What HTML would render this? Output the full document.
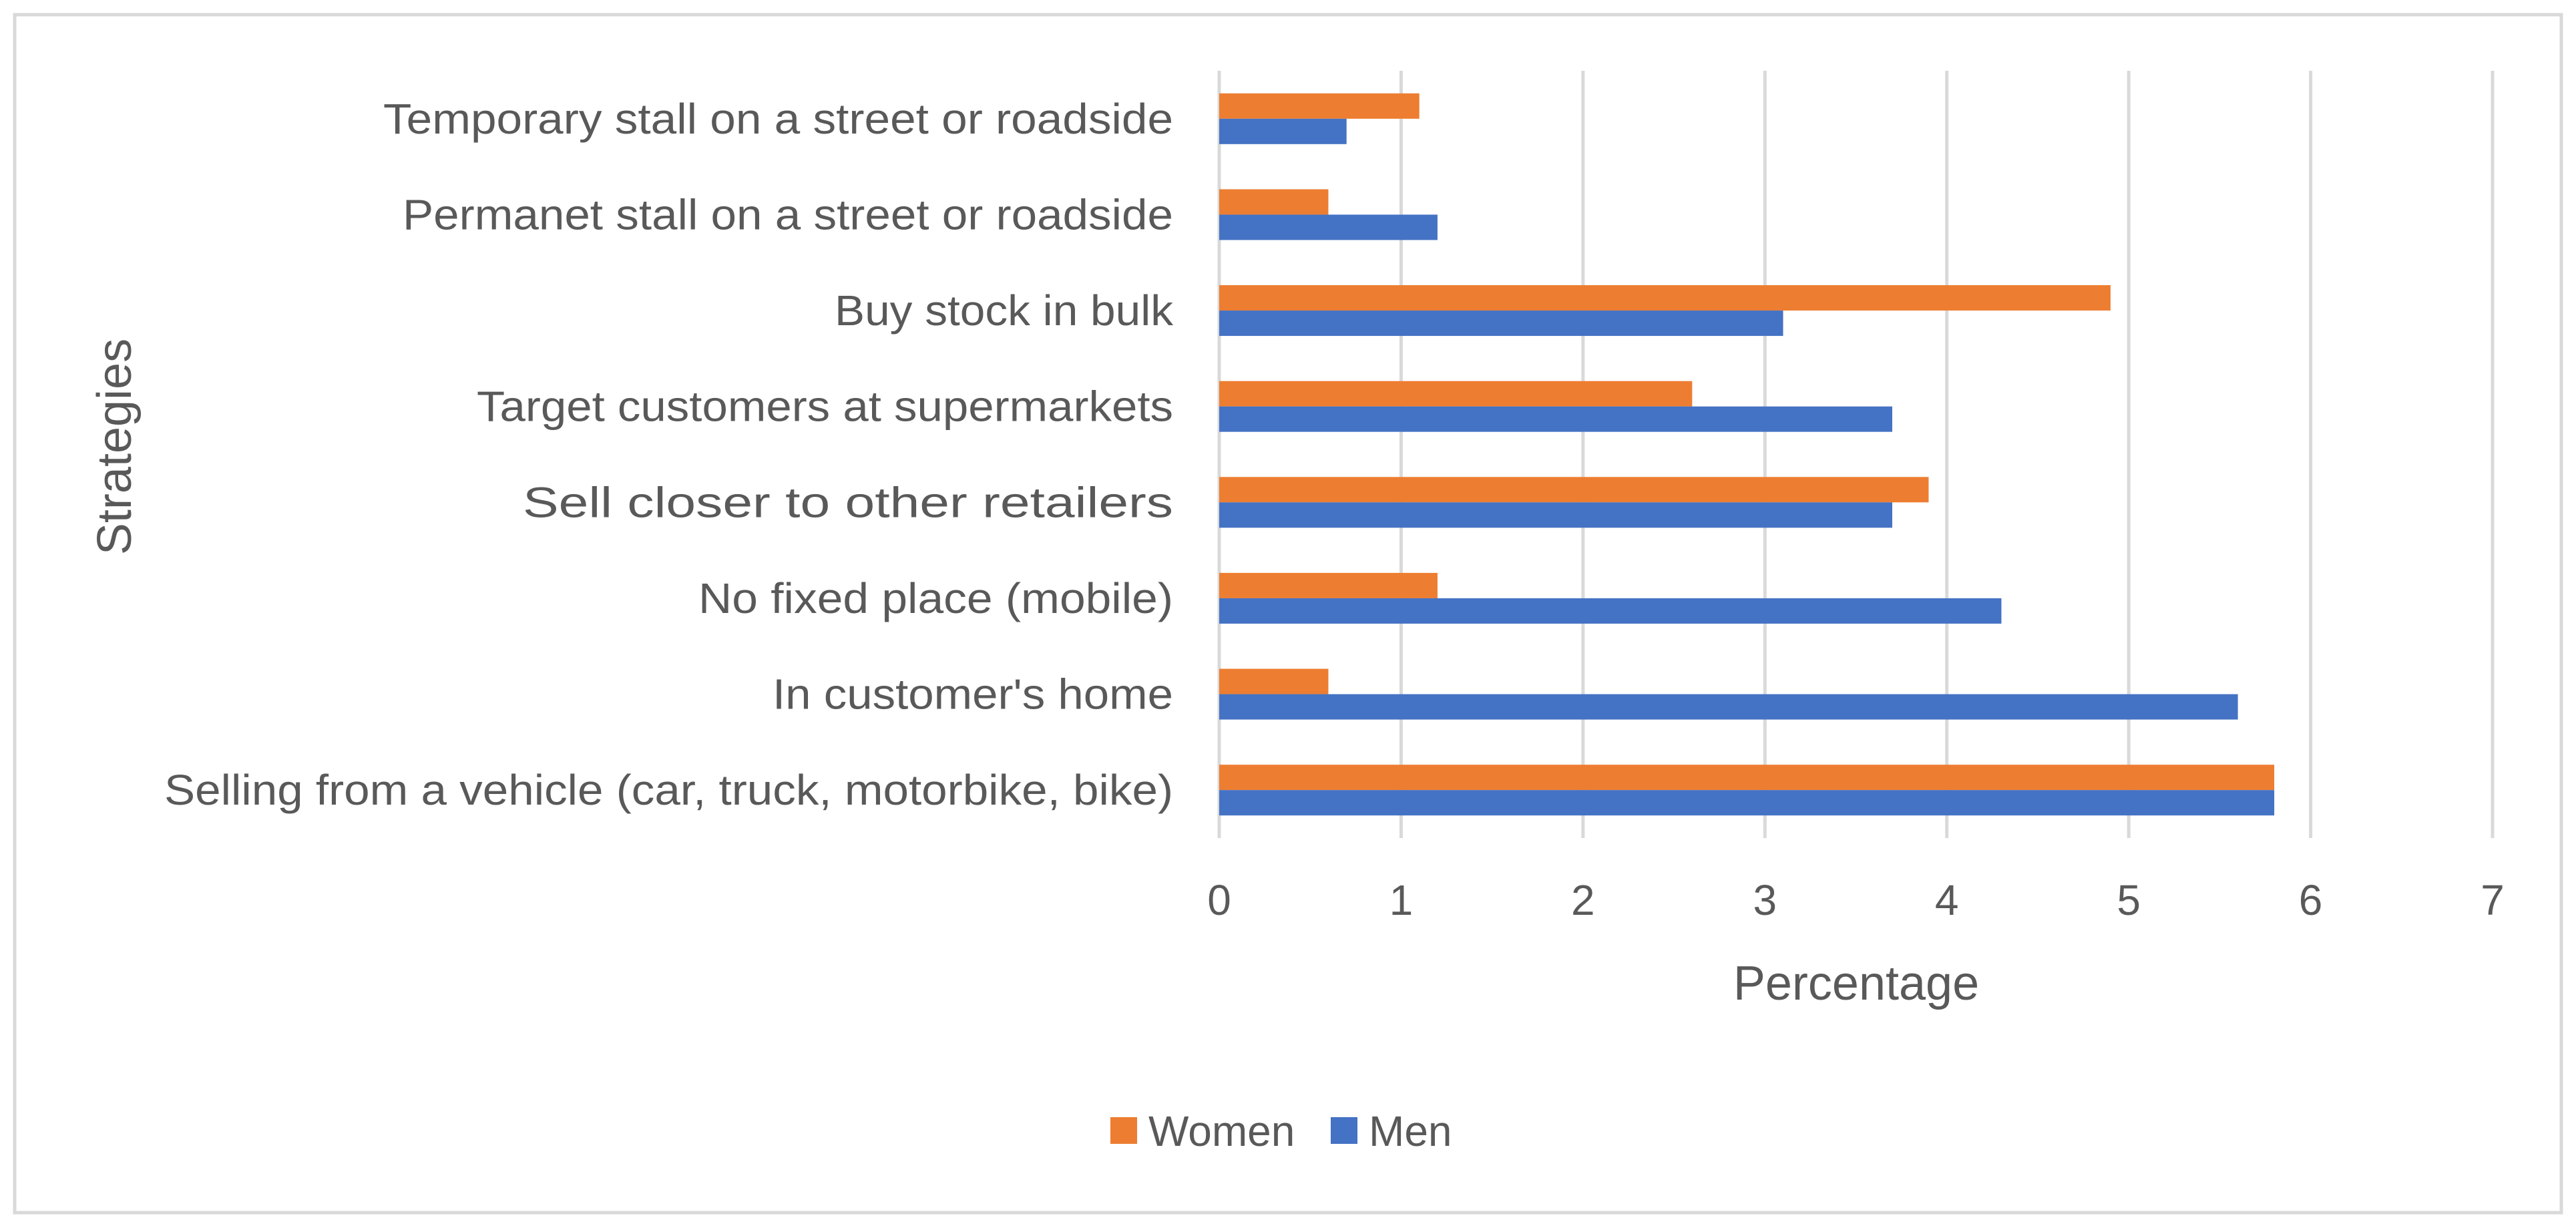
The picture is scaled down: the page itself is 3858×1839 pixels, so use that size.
<!DOCTYPE html>
<html><head><meta charset="utf-8"><style>
html,body{margin:0;padding:0;background:#fff}
svg{display:block;font-family:"Liberation Sans",sans-serif}
</style></head><body>
<svg id="chart" width="3858" height="1839" viewBox="0 0 3858 1839" xmlns="http://www.w3.org/2000/svg">
<rect x="22" y="22" width="3814" height="1794" fill="#fff" stroke="#d9d9d9" stroke-width="5"/>
<g id="grid"></g>
<g id="bars"></g>
<g id="labels"></g>
<text x="2780" y="1497" font-size="72" fill="#595959" text-anchor="middle">Percentage</text>
<text transform="translate(196,669) rotate(-90)" font-size="72" fill="#595959" text-anchor="middle">Strategies</text>
<g>
<rect x="1663" y="1673" width="40" height="40" fill="#ed7d31"/>
<text x="1720" y="1716" font-size="64" fill="#595959">Women</text>
<rect x="1993" y="1673" width="40" height="40" fill="#4472c4"/>
<text x="2050" y="1716" font-size="64" fill="#595959">Men</text>
</g>
</svg>
<script>
const categories = ["Temporary stall on a street or roadside","Permanet stall on a street or roadside","Buy stock in bulk","Target customers at supermarkets","Sell closer to other retailers","No fixed place (mobile)","In customer's home","Selling from a vehicle (car, truck, motorbike, bike)"];
const women = [1.1, 0.6, 4.9, 2.6, 3.9, 1.2, 0.6, 5.8];
const men = [0.7, 1.2, 3.1, 3.7, 3.7, 4.3, 5.6, 5.8];
const ticks = [0,1,2,3,4,5,6,7];

const labelW = [1183,1154,507,1043,974,711,600,1511];
const NS = "http://www.w3.org/2000/svg";
const x0 = 1826, x1 = 3733, xMax = 7;
const yTop = 106, yBot = 1255;
const band = (yBot - yTop) / categories.length;
const barH = 38;
const xs = v => x0 + (x1 - x0) * v / xMax;
const yc = i => yTop + band * (i + 0.5);
function mk(tag, attrs){const e=document.createElementNS(NS,tag);for(const k in attrs)e.setAttribute(k,attrs[k]);return e;}
const grid=document.getElementById('grid'), bars=document.getElementById('bars'), labels=document.getElementById('labels');
ticks.forEach(t=>{
  const l=mk('line',{x1:xs(t),x2:xs(t),y1:yTop,y2:yBot,stroke:'#d9d9d9','stroke-width':5});
  
  
  grid.appendChild(l);
  const tx=mk('text',{x:xs(t),y:1370,'font-size':64,fill:'#595959','text-anchor':'middle'});
  tx.textContent=t;
  
  
  labels.appendChild(tx);
});
categories.forEach((c,i)=>{
  const cy=yc(i);
  const w=mk('rect',{x:x0,y:cy-barH,width:xs(women[i])-x0,height:barH,fill:'#ed7d31'});
  
  
  bars.appendChild(w);
  const m=mk('rect',{x:x0,y:cy,width:xs(men[i])-x0,height:barH,fill:'#4472c4'});
  
  
  bars.appendChild(m);
  const t=mk('text',{x:1757,y:cy+22,'font-size':64,fill:'#595959','text-anchor':'end',textLength:labelW[i],lengthAdjust:'spacingAndGlyphs'});
  t.textContent=c;
  
  
  labels.appendChild(t);
});
</script>
</body></html>
